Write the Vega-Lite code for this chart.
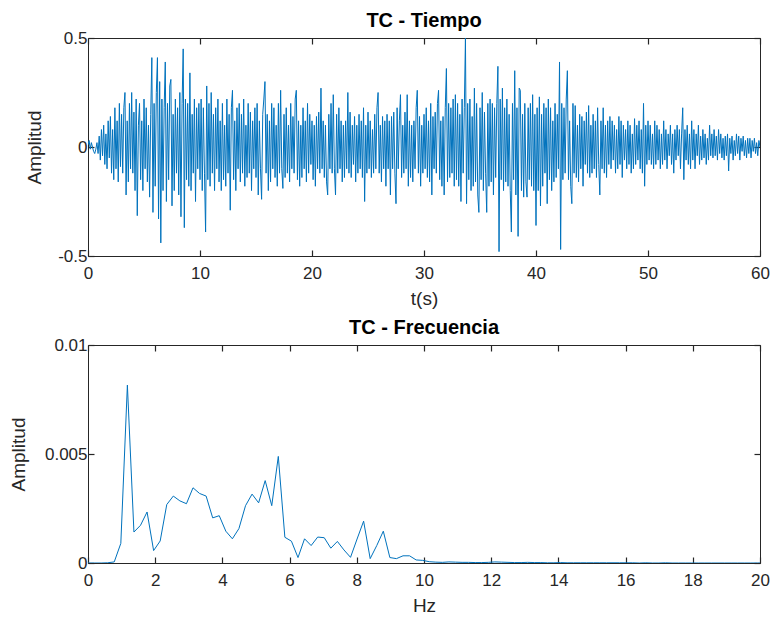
{
"$schema": "https://vega.github.io/schema/vega-lite/v6.json",
"padding": {"left": 9, "top": 10, "right": 0, "bottom": 2},
"background": "white",
"bounds": "flush",
"spacing": 89,
"config": {
  "font": "Liberation Sans",
  "view": {"stroke": null},
  "axis": {"grid": false, "labelFlush": false, "domainColor": "#262626", "tickColor": "#262626", "labelColor": "#262626", "titleColor": "#262626", "labelFont": "Liberation Sans", "titleFont": "Liberation Sans", "labelFontSize": 17, "titleFontSize": 19, "titleFontWeight": "normal", "tickSize": -6, "domainWidth": 1, "tickWidth": 1.2},
  "axisX": {"labelPadding": 15},
  "axisY": {"labelPadding": 7},
  "title": {"fontSize": 20, "fontWeight": "bold", "color": "#000000", "font": "Liberation Sans", "baseline": "alphabetic", "offset": -1.5}
},
"vconcat": [
 {
  "width": 672, "height": 218,
  "title": {"text": "TC - Tiempo"},
  "data": {"values": [
{"t":0,"a":0.01},{"t":0.1,"a":0.03},{"t":0.2,"a":-0.01},{"t":0.3,"a":0.02},{"t":0.4,"a":0},{"t":0.5,"a":-0.02},{"t":0.6,"a":-0.03},{"t":0.7,"a":-0.01},{"t":0.8,"a":0.02},{"t":0.9,"a":-0.03},
{"t":1,"a":0.05},{"t":1.1,"a":-0.06},{"t":1.2,"a":0.08},{"t":1.3,"a":-0.04},{"t":1.4,"a":0.1},{"t":1.5,"a":-0.08},{"t":1.6,"a":0.06},{"t":1.7,"a":-0.1},{"t":1.8,"a":0.12},{"t":1.9,"a":-0.05},
{"t":2,"a":0.14},{"t":2.1,"a":-0.12},{"t":2.2,"a":0.08},{"t":2.3,"a":-0.15},{"t":2.4,"a":0.18},{"t":2.5,"a":-0.1},{"t":2.6,"a":0.12},{"t":2.7,"a":-0.16},{"t":2.8,"a":0.2},{"t":2.9,"a":-0.09},
{"t":3,"a":0.15},{"t":3.1,"a":-0.12},{"t":3.2,"a":0.18},{"t":3.3,"a":0.25},{"t":3.4,"a":-0.22},{"t":3.5,"a":0.12},{"t":3.6,"a":-0.16},{"t":3.7,"a":0.2},{"t":3.8,"a":-0.1},{"t":3.9,"a":0.25},
{"t":4,"a":-0.12},{"t":4.1,"a":0.16},{"t":4.2,"a":-0.2},{"t":4.3,"a":0.22},{"t":4.4,"a":-0.315},{"t":4.5,"a":0.1},{"t":4.6,"a":0.2},{"t":4.7,"a":-0.15},{"t":4.8,"a":0.12},{"t":4.9,"a":-0.2},
{"t":5,"a":0.22},{"t":5.1,"a":-0.1},{"t":5.2,"a":0.18},{"t":5.3,"a":-0.16},{"t":5.4,"a":0.1},{"t":5.5,"a":-0.23},{"t":5.6,"a":0.15},{"t":5.7,"a":0.41},{"t":5.8,"a":-0.3},{"t":5.9,"a":0.2},
{"t":6,"a":-0.18},{"t":6.1,"a":0.25},{"t":6.2,"a":0.41},{"t":6.3,"a":-0.33},{"t":6.4,"a":0.3},{"t":6.5,"a":-0.44},{"t":6.6,"a":0.22},{"t":6.7,"a":-0.2},{"t":6.8,"a":0.18},{"t":6.9,"a":0.39},
{"t":7,"a":-0.25},{"t":7.1,"a":0.2},{"t":7.2,"a":-0.15},{"t":7.3,"a":0.28},{"t":7.4,"a":0.31},{"t":7.5,"a":-0.27},{"t":7.6,"a":0.15},{"t":7.7,"a":-0.2},{"t":7.8,"a":0.22},{"t":7.9,"a":-0.12},
{"t":8,"a":0.18},{"t":8.1,"a":-0.22},{"t":8.2,"a":0.25},{"t":8.3,"a":-0.32},{"t":8.4,"a":0.2},{"t":8.5,"a":0.45},{"t":8.6,"a":-0.37},{"t":8.7,"a":0.22},{"t":8.8,"a":-0.15},{"t":8.9,"a":0.2},
{"t":9,"a":-0.18},{"t":9.1,"a":0.34},{"t":9.2,"a":-0.2},{"t":9.3,"a":0.15},{"t":9.4,"a":-0.12},{"t":9.5,"a":0.22},{"t":9.6,"a":-0.25},{"t":9.7,"a":0.18},{"t":9.8,"a":-0.1},{"t":9.9,"a":0.2},
{"t":10,"a":-0.15},{"t":10.1,"a":0.22},{"t":10.2,"a":-0.2},{"t":10.3,"a":0.18},{"t":10.4,"a":-0.12},{"t":10.5,"a":-0.39},{"t":10.6,"a":0.28},{"t":10.7,"a":-0.15},{"t":10.8,"a":0.2},{"t":10.9,"a":-0.18},
{"t":11,"a":0.25},{"t":11.1,"a":-0.12},{"t":11.2,"a":0.15},{"t":11.3,"a":-0.2},{"t":11.4,"a":0.18},{"t":11.5,"a":-0.1},{"t":11.6,"a":0.22},{"t":11.7,"a":-0.16},{"t":11.8,"a":0.12},{"t":11.9,"a":-0.2},
{"t":12,"a":0.2},{"t":12.1,"a":-0.15},{"t":12.2,"a":0.1},{"t":12.3,"a":-0.18},{"t":12.4,"a":0.22},{"t":12.5,"a":-0.12},{"t":12.6,"a":0.15},{"t":12.7,"a":-0.29},{"t":12.8,"a":0.18},{"t":12.9,"a":0.26},
{"t":13,"a":-0.15},{"t":13.1,"a":0.12},{"t":13.2,"a":-0.2},{"t":13.3,"a":0.18},{"t":13.4,"a":-0.1},{"t":13.5,"a":0.2},{"t":13.6,"a":-0.16},{"t":13.7,"a":0.15},{"t":13.8,"a":-0.12},{"t":13.9,"a":0.22},
{"t":14,"a":-0.18},{"t":14.1,"a":0.1},{"t":14.2,"a":-0.14},{"t":14.3,"a":0.2},{"t":14.4,"a":-0.12},{"t":14.5,"a":0.16},{"t":14.6,"a":-0.2},{"t":14.7,"a":0.12},{"t":14.8,"a":-0.1},{"t":14.9,"a":0.18},
{"t":15,"a":-0.14},{"t":15.1,"a":0.2},{"t":15.2,"a":-0.22},{"t":15.3,"a":0.12},{"t":15.4,"a":-0.1},{"t":15.5,"a":-0.24},{"t":15.6,"a":0.15},{"t":15.7,"a":0.22},{"t":15.8,"a":0.3},{"t":15.9,"a":-0.12},
{"t":16,"a":0.15},{"t":16.1,"a":-0.2},{"t":16.2,"a":0.12},{"t":16.3,"a":-0.16},{"t":16.4,"a":0.2},{"t":16.5,"a":-0.1},{"t":16.6,"a":0.18},{"t":16.7,"a":-0.14},{"t":16.8,"a":0.1},{"t":16.9,"a":-0.18},
{"t":17,"a":0.2},{"t":17.1,"a":-0.12},{"t":17.2,"a":0.26},{"t":17.3,"a":-0.1},{"t":17.4,"a":-0.19},{"t":17.5,"a":0.15},{"t":17.6,"a":-0.14},{"t":17.7,"a":0.18},{"t":17.8,"a":-0.12},{"t":17.9,"a":0.1},
{"t":18,"a":-0.16},{"t":18.1,"a":0.2},{"t":18.2,"a":-0.1},{"t":18.3,"a":0.14},{"t":18.4,"a":-0.12},{"t":18.5,"a":0.22},{"t":18.6,"a":0.26},{"t":18.7,"a":-0.15},{"t":18.8,"a":0.12},{"t":18.9,"a":-0.18},
{"t":19,"a":0.1},{"t":19.1,"a":-0.14},{"t":19.2,"a":0.18},{"t":19.3,"a":-0.1},{"t":19.4,"a":0.12},{"t":19.5,"a":-0.16},{"t":19.6,"a":0.2},{"t":19.7,"a":-0.12},{"t":19.8,"a":0.15},{"t":19.9,"a":-0.08},
{"t":20,"a":0.12},{"t":20.1,"a":-0.15},{"t":20.2,"a":0.1},{"t":20.3,"a":-0.18},{"t":20.4,"a":0.14},{"t":20.5,"a":-0.1},{"t":20.6,"a":0.16},{"t":20.7,"a":-0.12},{"t":20.8,"a":0.27},{"t":20.9,"a":-0.1},
{"t":21,"a":0.12},{"t":21.1,"a":-0.14},{"t":21.2,"a":0.1},{"t":21.3,"a":-0.16},{"t":21.4,"a":-0.22},{"t":21.5,"a":0.15},{"t":21.6,"a":-0.1},{"t":21.7,"a":0.2},{"t":21.8,"a":-0.12},{"t":21.9,"a":0.24},
{"t":22,"a":-0.1},{"t":22.1,"a":-0.22},{"t":22.2,"a":0.15},{"t":22.3,"a":-0.12},{"t":22.4,"a":0.18},{"t":22.5,"a":-0.1},{"t":22.6,"a":0.12},{"t":22.7,"a":-0.16},{"t":22.8,"a":0.1},{"t":22.9,"a":-0.14},
{"t":23,"a":0.12},{"t":23.1,"a":-0.1},{"t":23.2,"a":0.25},{"t":23.3,"a":-0.12},{"t":23.4,"a":0.16},{"t":23.5,"a":-0.14},{"t":23.6,"a":0.1},{"t":23.7,"a":-0.08},{"t":23.8,"a":0.14},{"t":23.9,"a":-0.16},
{"t":24,"a":0.1},{"t":24.1,"a":-0.12},{"t":24.2,"a":0.15},{"t":24.3,"a":-0.1},{"t":24.4,"a":0.12},{"t":24.5,"a":-0.14},{"t":24.6,"a":0.18},{"t":24.7,"a":-0.25},{"t":24.8,"a":0.1},{"t":24.9,"a":-0.12},
{"t":25,"a":0.16},{"t":25.1,"a":-0.1},{"t":25.2,"a":0.12},{"t":25.3,"a":-0.14},{"t":25.4,"a":0.08},{"t":25.5,"a":-0.12},{"t":25.6,"a":0.15},{"t":25.7,"a":-0.1},{"t":25.8,"a":0.18},{"t":25.9,"a":0.25},
{"t":26,"a":-0.12},{"t":26.1,"a":0.1},{"t":26.2,"a":-0.16},{"t":26.3,"a":0.14},{"t":26.4,"a":-0.1},{"t":26.5,"a":0.12},{"t":26.6,"a":-0.18},{"t":26.7,"a":0.15},{"t":26.8,"a":-0.1},{"t":26.9,"a":0.12},
{"t":27,"a":-0.22},{"t":27.1,"a":0.14},{"t":27.2,"a":-0.1},{"t":27.3,"a":0.16},{"t":27.4,"a":-0.12},{"t":27.5,"a":-0.26},{"t":27.6,"a":0.18},{"t":27.7,"a":-0.1},{"t":27.8,"a":0.12},{"t":27.9,"a":0.24},
{"t":28,"a":-0.14},{"t":28.1,"a":0.1},{"t":28.2,"a":-0.12},{"t":28.3,"a":0.16},{"t":28.4,"a":-0.1},{"t":28.5,"a":0.24},{"t":28.6,"a":-0.18},{"t":28.7,"a":0.12},{"t":28.8,"a":-0.14},{"t":28.9,"a":0.1},
{"t":29,"a":-0.16},{"t":29.1,"a":0.12},{"t":29.2,"a":-0.1},{"t":29.3,"a":0.18},{"t":29.4,"a":0.26},{"t":29.5,"a":-0.12},{"t":29.6,"a":0.14},{"t":29.7,"a":-0.18},{"t":29.8,"a":0.1},{"t":29.9,"a":-0.12},
{"t":30,"a":0.15},{"t":30.1,"a":-0.1},{"t":30.2,"a":0.18},{"t":30.3,"a":-0.14},{"t":30.4,"a":0.12},{"t":30.5,"a":-0.16},{"t":30.6,"a":0.2},{"t":30.7,"a":-0.22},{"t":30.8,"a":0.14},{"t":30.9,"a":-0.1},
{"t":31,"a":0.16},{"t":31.1,"a":-0.12},{"t":31.2,"a":0.2},{"t":31.3,"a":0.26},{"t":31.4,"a":-0.15},{"t":31.5,"a":0.12},{"t":31.6,"a":-0.18},{"t":31.7,"a":0.14},{"t":31.8,"a":-0.22},{"t":31.9,"a":0.18},
{"t":32,"a":0.36},{"t":32.1,"a":-0.16},{"t":32.2,"a":0.2},{"t":32.3,"a":-0.14},{"t":32.4,"a":0.18},{"t":32.5,"a":-0.12},{"t":32.6,"a":0.22},{"t":32.7,"a":-0.18},{"t":32.8,"a":0.24},{"t":32.9,"a":-0.15},
{"t":33,"a":0.2},{"t":33.1,"a":-0.18},{"t":33.2,"a":0.15},{"t":33.3,"a":-0.25},{"t":33.4,"a":0.22},{"t":33.5,"a":-0.12},{"t":33.6,"a":0.18},{"t":33.7,"a":0.5},{"t":33.8,"a":-0.26},{"t":33.9,"a":0.2},
{"t":34,"a":-0.15},{"t":34.1,"a":0.22},{"t":34.2,"a":-0.2},{"t":34.3,"a":0.14},{"t":34.4,"a":-0.18},{"t":34.5,"a":0.27},{"t":34.6,"a":-0.16},{"t":34.7,"a":0.2},{"t":34.8,"a":-0.22},{"t":34.9,"a":-0.3},
{"t":35,"a":0.18},{"t":35.1,"a":-0.15},{"t":35.2,"a":0.25},{"t":35.3,"a":-0.2},{"t":35.4,"a":0.16},{"t":35.5,"a":-0.12},{"t":35.6,"a":-0.3},{"t":35.7,"a":0.2},{"t":35.8,"a":-0.18},{"t":35.9,"a":0.22},
{"t":36,"a":-0.16},{"t":36.1,"a":0.2},{"t":36.2,"a":-0.22},{"t":36.3,"a":0.18},{"t":36.4,"a":-0.14},{"t":36.5,"a":0.2},{"t":36.6,"a":0.37},{"t":36.7,"a":-0.48},{"t":36.8,"a":0.22},{"t":36.9,"a":-0.15},
{"t":37,"a":0.27},{"t":37.1,"a":-0.2},{"t":37.2,"a":0.18},{"t":37.3,"a":-0.16},{"t":37.4,"a":0.22},{"t":37.5,"a":-0.18},{"t":37.6,"a":0.15},{"t":37.7,"a":-0.2},{"t":37.8,"a":-0.39},{"t":37.9,"a":0.2},
{"t":38,"a":-0.15},{"t":38.1,"a":0.35},{"t":38.2,"a":-0.22},{"t":38.3,"a":0.18},{"t":38.4,"a":-0.41},{"t":38.5,"a":0.27},{"t":38.6,"a":0.26},{"t":38.7,"a":-0.2},{"t":38.8,"a":0.15},{"t":38.9,"a":-0.23},
{"t":39,"a":0.2},{"t":39.1,"a":-0.16},{"t":39.2,"a":-0.23},{"t":39.3,"a":0.18},{"t":39.4,"a":-0.15},{"t":39.5,"a":0.2},{"t":39.6,"a":-0.18},{"t":39.7,"a":0.24},{"t":39.8,"a":-0.2},{"t":39.9,"a":0.15},
{"t":40,"a":-0.36},{"t":40.1,"a":0.18},{"t":40.2,"a":-0.2},{"t":40.3,"a":0.23},{"t":40.4,"a":-0.27},{"t":40.5,"a":0.15},{"t":40.6,"a":-0.18},{"t":40.7,"a":0.2},{"t":40.8,"a":-0.12},{"t":40.9,"a":0.18},
{"t":41,"a":-0.26},{"t":41.1,"a":0.22},{"t":41.2,"a":-0.15},{"t":41.3,"a":0.18},{"t":41.4,"a":-0.2},{"t":41.5,"a":0.12},{"t":41.6,"a":-0.16},{"t":41.7,"a":0.2},{"t":41.8,"a":-0.14},{"t":41.9,"a":0.15},
{"t":42,"a":-0.1},{"t":42.1,"a":0.39},{"t":42.2,"a":-0.47},{"t":42.3,"a":0.2},{"t":42.4,"a":-0.15},{"t":42.5,"a":0.18},{"t":42.6,"a":-0.12},{"t":42.7,"a":0.22},{"t":42.8,"a":0.35},{"t":42.9,"a":-0.15},
{"t":43,"a":0.12},{"t":43.1,"a":-0.18},{"t":43.2,"a":-0.26},{"t":43.3,"a":0.2},{"t":43.4,"a":-0.12},{"t":43.5,"a":0.19},{"t":43.6,"a":-0.14},{"t":43.7,"a":0.1},{"t":43.8,"a":-0.16},{"t":43.9,"a":0.15},
{"t":44,"a":-0.1},{"t":44.1,"a":0.14},{"t":44.2,"a":-0.18},{"t":44.3,"a":0.12},{"t":44.4,"a":-0.08},{"t":44.5,"a":0.16},{"t":44.6,"a":-0.12},{"t":44.7,"a":0.19},{"t":44.8,"a":-0.14},{"t":44.9,"a":0.1},
{"t":45,"a":-0.12},{"t":45.1,"a":0.15},{"t":45.2,"a":-0.1},{"t":45.3,"a":0.12},{"t":45.4,"a":-0.14},{"t":45.5,"a":0.18},{"t":45.6,"a":-0.08},{"t":45.7,"a":-0.22},{"t":45.8,"a":0.12},{"t":45.9,"a":-0.1},
{"t":46,"a":0.18},{"t":46.1,"a":-0.12},{"t":46.2,"a":0.1},{"t":46.3,"a":-0.14},{"t":46.4,"a":0.12},{"t":46.5,"a":-0.08},{"t":46.6,"a":0.14},{"t":46.7,"a":-0.1},{"t":46.8,"a":0.12},{"t":46.9,"a":-0.06},
{"t":47,"a":0.1},{"t":47.1,"a":-0.12},{"t":47.2,"a":0.08},{"t":47.3,"a":-0.1},{"t":47.4,"a":0.14},{"t":47.5,"a":-0.08},{"t":47.6,"a":0.12},{"t":47.7,"a":-0.14},{"t":47.8,"a":0.1},{"t":47.9,"a":-0.06},
{"t":48,"a":0.08},{"t":48.1,"a":-0.1},{"t":48.2,"a":0.12},{"t":48.3,"a":-0.08},{"t":48.4,"a":0.1},{"t":48.5,"a":-0.12},{"t":48.6,"a":0.06},{"t":48.7,"a":-0.1},{"t":48.8,"a":0.13},{"t":48.9,"a":-0.08},
{"t":49,"a":0.1},{"t":49.1,"a":-0.06},{"t":49.2,"a":0.12},{"t":49.3,"a":-0.1},{"t":49.4,"a":0.08},{"t":49.5,"a":-0.12},{"t":49.6,"a":0.2},{"t":49.7,"a":-0.18},{"t":49.8,"a":0.1},{"t":49.9,"a":-0.08},
{"t":50,"a":0.12},{"t":50.1,"a":-0.06},{"t":50.2,"a":0.1},{"t":50.3,"a":-0.08},{"t":50.4,"a":0.06},{"t":50.5,"a":-0.1},{"t":50.6,"a":0.12},{"t":50.7,"a":-0.08},{"t":50.8,"a":0.1},{"t":50.9,"a":-0.06},
{"t":51,"a":0.08},{"t":51.1,"a":-0.1},{"t":51.2,"a":0.06},{"t":51.3,"a":-0.08},{"t":51.4,"a":0.12},{"t":51.5,"a":-0.06},{"t":51.6,"a":0.08},{"t":51.7,"a":-0.1},{"t":51.8,"a":0.06},{"t":51.9,"a":-0.04},
{"t":52,"a":0.1},{"t":52.1,"a":-0.08},{"t":52.2,"a":0.06},{"t":52.3,"a":-0.12},{"t":52.4,"a":0.08},{"t":52.5,"a":-0.06},{"t":52.6,"a":0.1},{"t":52.7,"a":-0.04},{"t":52.8,"a":0.08},{"t":52.9,"a":-0.1},
{"t":53,"a":0.06},{"t":53.1,"a":0.18},{"t":53.2,"a":-0.15},{"t":53.3,"a":0.08},{"t":53.4,"a":-0.06},{"t":53.5,"a":0.1},{"t":53.6,"a":-0.08},{"t":53.7,"a":0.06},{"t":53.8,"a":-0.1},{"t":53.9,"a":0.12},
{"t":54,"a":-0.06},{"t":54.1,"a":0.08},{"t":54.2,"a":-0.1},{"t":54.3,"a":0.06},{"t":54.4,"a":-0.04},{"t":54.5,"a":0.1},{"t":54.6,"a":-0.08},{"t":54.7,"a":0.05},{"t":54.8,"a":-0.06},{"t":54.9,"a":0.08},
{"t":55,"a":-0.05},{"t":55.1,"a":0.06},{"t":55.2,"a":-0.08},{"t":55.3,"a":0.04},{"t":55.4,"a":-0.06},{"t":55.5,"a":0.1},{"t":55.6,"a":-0.04},{"t":55.7,"a":0.06},{"t":55.8,"a":-0.05},{"t":55.9,"a":0.08},
{"t":56,"a":-0.04},{"t":56.1,"a":0.05},{"t":56.2,"a":-0.06},{"t":56.3,"a":0.08},{"t":56.4,"a":-0.03},{"t":56.5,"a":0.06},{"t":56.6,"a":-0.05},{"t":56.7,"a":0.04},{"t":56.8,"a":-0.06},{"t":56.9,"a":0.05},
{"t":57,"a":-0.04},{"t":57.1,"a":0.06},{"t":57.2,"a":-0.11},{"t":57.3,"a":0.04},{"t":57.4,"a":-0.03},{"t":57.5,"a":0.05},{"t":57.6,"a":-0.06},{"t":57.7,"a":0.03},{"t":57.8,"a":-0.04},{"t":57.9,"a":0.06},
{"t":58,"a":-0.03},{"t":58.1,"a":0.05},{"t":58.2,"a":-0.06},{"t":58.3,"a":0.04},{"t":58.4,"a":-0.02},{"t":58.5,"a":0.05},{"t":58.6,"a":-0.04},{"t":58.7,"a":0.03},{"t":58.8,"a":-0.05},{"t":58.9,"a":0.04},
{"t":59,"a":-0.03},{"t":59.1,"a":0.04},{"t":59.2,"a":-0.05},{"t":59.3,"a":0.03},{"t":59.4,"a":-0.02},{"t":59.5,"a":0.04},{"t":59.6,"a":-0.03},{"t":59.7,"a":0.02},{"t":59.8,"a":-0.04},{"t":59.9,"a":0.03},
{"t":60,"a":0}
  ]},
  "layer": [
   {
    "mark": {"type": "line", "color": "#0072BD", "strokeWidth": 1, "clip": true},
    "encoding": {
     "x": {"field": "t", "type": "quantitative", "scale": {"domain": [0, 60], "nice": false, "zero": false},
           "axis": {"orient": "bottom", "values": [0,10,20,30,40,50,60], "title": "t(s)", "titleBaseline": "alphabetic", "titleY": 48, "labelExpr": "datum.value + ''"}},
     "y": {"field": "a", "type": "quantitative", "scale": {"domain": [-0.5, 0.5], "nice": false},
           "axis": {"orient": "left", "values": [-0.5, 0, 0.5], "title": "Amplitud", "titleBaseline": "alphabetic", "titleX": -48, "titleAngle": 270, "labelExpr": "datum.value + ''"}}
    }
   },
   {
    "mark": {"type": "line", "strokeOpacity": 0},
    "encoding": {
     "x": {"field": "t", "type": "quantitative", "axis": {"orient": "top", "values": [0,10,20,30,40,50,60], "labels": false, "title": null}},
     "y": {"field": "a", "type": "quantitative", "axis": {"orient": "right", "values": [-0.5, 0, 0.5], "labels": false, "title": null}}
    }
   }
  ],
  "resolve": {"axis": {"x": "independent", "y": "independent"}}
 },
 {
  "width": 672, "height": 218,
  "title": {"text": "TC - Frecuencia"},
  "data": {"values": [
{"f":0,"a":0},{"f":0.195,"a":0},{"f":0.391,"a":0},{"f":0.586,"a":0.00001},{"f":0.781,"a":0.00005},{"f":0.977,"a":0.0009},{"f":1.172,"a":0.00816},{"f":1.367,"a":0.00142},{"f":1.563,"a":0.00173},{"f":1.758,"a":0.00234},
{"f":1.953,"a":0.00057},{"f":2.148,"a":0.00101},{"f":2.344,"a":0.00268},{"f":2.539,"a":0.00307},{"f":2.734,"a":0.00285},{"f":2.93,"a":0.00272},{"f":3.125,"a":0.00345},{"f":3.32,"a":0.00319},{"f":3.516,"a":0.00307},{"f":3.711,"a":0.00207},
{"f":3.906,"a":0.00217},{"f":4.102,"a":0.00146},{"f":4.297,"a":0.00111},{"f":4.492,"a":0.00158},{"f":4.688,"a":0.00263},{"f":4.883,"a":0.00316},{"f":5.078,"a":0.00276},{"f":5.273,"a":0.00378},{"f":5.469,"a":0.00263},{"f":5.664,"a":0.00489},
{"f":5.859,"a":0.00118},{"f":6.055,"a":0.001},{"f":6.25,"a":0.00025},{"f":6.445,"a":0.00111},{"f":6.641,"a":0.0008},{"f":6.836,"a":0.00119},{"f":7.031,"a":0.00116},{"f":7.227,"a":0.00068},{"f":7.422,"a":0.00099},{"f":7.617,"a":0.0006},
{"f":7.813,"a":0.00026},{"f":8.008,"a":0.0011},{"f":8.203,"a":0.00192},{"f":8.398,"a":0.0002},{"f":8.594,"a":0.0008},{"f":8.789,"a":0.00146},{"f":8.984,"a":0.00025},{"f":9.18,"a":0.0002},{"f":9.375,"a":0.00033},{"f":9.57,"a":0.00033},
{"f":9.766,"a":0.00014},{"f":9.961,"a":0.00012},{"f":10.156,"a":0.00006},{"f":10.352,"a":0.00004},{"f":10.547,"a":0.00003},{"f":10.742,"a":0.00005},{"f":10.938,"a":0.00004},{"f":11.133,"a":0.00003},{"f":11.328,"a":0.00003},{"f":11.523,"a":0.00002},
{"f":11.719,"a":0.00002},{"f":11.914,"a":0.00003},{"f":12.109,"a":0.00005},{"f":12.305,"a":0.00004},{"f":12.5,"a":0.00003},{"f":12.695,"a":0.00002},{"f":12.891,"a":0.00002},{"f":13.086,"a":0.00003},{"f":13.281,"a":0.00002},{"f":13.477,"a":0.00002},
{"f":13.672,"a":0.00001},{"f":13.867,"a":0.00001},{"f":14.063,"a":0.00002},{"f":14.258,"a":0.00001},{"f":14.453,"a":0.00001},{"f":14.648,"a":0.00001},{"f":14.844,"a":0.00001},{"f":15.039,"a":0.00001},{"f":15.234,"a":0.00001},{"f":15.43,"a":0.00001},
{"f":15.625,"a":0.00001},{"f":15.82,"a":0.00001},{"f":16.016,"a":0.00001},{"f":16.211,"a":0.00001},{"f":16.406,"a":0},{"f":16.602,"a":0.00001},{"f":16.797,"a":0},{"f":16.992,"a":0},{"f":17.188,"a":0.00001},{"f":17.383,"a":0},
{"f":17.578,"a":0},{"f":17.773,"a":0},{"f":17.969,"a":0},{"f":18.164,"a":0},{"f":18.359,"a":0},{"f":18.555,"a":0},{"f":18.75,"a":0},{"f":18.945,"a":0},{"f":19.141,"a":0},{"f":19.336,"a":0},
{"f":19.531,"a":0},{"f":19.727,"a":0},{"f":19.922,"a":0},{"f":20.117,"a":0}
  ]},
  "layer": [
   {
    "mark": {"type": "line", "color": "#0072BD", "strokeWidth": 1, "clip": true},
    "encoding": {
     "x": {"field": "f", "type": "quantitative", "scale": {"domain": [0, 20], "nice": false},
           "axis": {"orient": "bottom", "values": [0,2,4,6,8,10,12,14,16,18,20], "title": "Hz", "titleBaseline": "alphabetic", "titleY": 48, "labelExpr": "datum.value + ''"}},
     "y": {"field": "a", "type": "quantitative", "scale": {"domain": [0, 0.01], "nice": false},
           "axis": {"orient": "left", "values": [0, 0.005, 0.01], "title": "Amplitud", "titleBaseline": "alphabetic", "titleX": -64, "titleAngle": 270, "labelExpr": "datum.value + ''"}}
    }
   },
   {
    "mark": {"type": "line", "strokeOpacity": 0},
    "encoding": {
     "x": {"field": "f", "type": "quantitative", "axis": {"orient": "top", "values": [0,2,4,6,8,10,12,14,16,18,20], "labels": false, "title": null}},
     "y": {"field": "a", "type": "quantitative", "axis": {"orient": "right", "values": [0, 0.005, 0.01], "labels": false, "title": null}}
    }
   }
  ],
  "resolve": {"axis": {"x": "independent", "y": "independent"}}
 }
]
}
